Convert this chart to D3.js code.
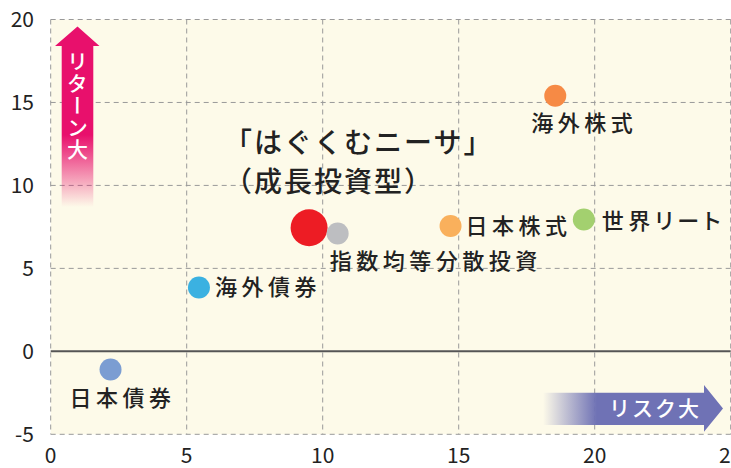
<!DOCTYPE html>
<html>
<head>
<meta charset="utf-8">
<script src="https://cdn.jsdelivr.net/npm/d3@7"></script>
<style>
  html, body { margin: 0; padding: 0; background: #fff; }
  svg { display: block; font-family: "Noto Sans CJK JP", "Noto Sans", sans-serif; }
</style>
</head>
<body>
<script>
// data: risk (x) and return (y)
var names = ["日本債券", "海外債券", "はぐくむニーサ", "指数均等分散投資", "日本株式", "海外株式", "世界リート"];
var risk  = [2.2, 5.45, 9.5, 10.55, 14.7, 18.55, 19.6];
var ret   = [-1.1, 3.85, 7.45, 7.1, 7.55, 15.4, 7.95];
var xTicks = [0, 5, 10, 15, 20, 25];
var yTicks = [-5, 0, 5, 10, 15, 20];
var title = ["「はぐくむニーサ」", "（成長投資型）"];

// styles and label placement
var colors = {
  "日本債券": "#7b9dd2", "海外債券": "#3bb1e1", "はぐくむニーサ": "#ed1c24",
  "指数均等分散投資": "#bdbec1", "日本株式": "#f9b05c", "海外株式": "#f68a45", "世界リート": "#a3d06f"
};
var labelPos = {
  "日本債券": [12, 29, "middle"], "海外債券": [16, 0, "start"],
  "指数均等分散投資": [-8, 28, "start"], "日本株式": [15, 0, "start"],
  "海外株式": [29, 27, "middle"], "世界リート": [18, 2, "start"]
};

var width = 731, height = 468;
var plotL = 50.7, plotR = 730.7, plotT = 19.5, plotB = 434.3;

var svg = d3.select("body").append("svg")
    .attr("width", width)
    .attr("height", height);

var defs = svg.append("defs");

var gv = defs.append("linearGradient").attr("id", "gv")
    .attr("x1", 0).attr("y1", 0).attr("x2", 0).attr("y2", 1);
gv.append("stop").attr("offset", 0).attr("stop-color", "#e8106c").attr("stop-opacity", 1);
gv.append("stop").attr("offset", 0.6).attr("stop-color", "#e8106c").attr("stop-opacity", 1);
gv.append("stop").attr("offset", 1).attr("stop-color", "#e8106c").attr("stop-opacity", 0);

var gh = defs.append("linearGradient").attr("id", "gh")
    .attr("x1", 0).attr("y1", 0).attr("x2", 1).attr("y2", 0);
gh.append("stop").attr("offset", 0).attr("stop-color", "#6f72b5").attr("stop-opacity", 0);
gh.append("stop").attr("offset", 0.3).attr("stop-color", "#6f72b5").attr("stop-opacity", 1);
gh.append("stop").attr("offset", 1).attr("stop-color", "#6f72b5").attr("stop-opacity", 1);

var x = d3.scaleLinear().domain([0, 25]).range([plotL, plotR]);
var y = d3.scaleLinear().domain([-5, 20]).range([plotB, plotT]);

// plot background
svg.append("rect")
    .attr("x", x(0)).attr("y", y(20))
    .attr("width", x(25) - x(0)).attr("height", y(-5) - y(20))
    .attr("fill", "#fdfae9");

// dashed grid
svg.append("g").selectAll("line").data(xTicks).enter().append("line")
    .attr("x1", function(d) { return x(d); }).attr("x2", function(d) { return x(d); })
    .attr("y1", y(20)).attr("y2", y(-5))
    .attr("stroke", "#999").attr("stroke-width", 1).attr("stroke-dasharray", "5,4");

svg.append("g").selectAll("line").data(yTicks.filter(function(d) { return d !== 0; })).enter().append("line")
    .attr("y1", function(d) { return y(d); }).attr("y2", function(d) { return y(d); })
    .attr("x1", x(0)).attr("x2", x(25))
    .attr("stroke", "#999").attr("stroke-width", 1).attr("stroke-dasharray", "5,4");

// zero line
svg.append("line")
    .attr("x1", x(0)).attr("x2", x(25)).attr("y1", y(0)).attr("y2", y(0))
    .attr("stroke", "#555").attr("stroke-width", 2);

// tick labels
svg.append("g").selectAll("text").data(yTicks).enter().append("text")
    .attr("x", 34).attr("y", function(d) { return y(d); })
    .attr("dy", "0.35em")
    .attr("text-anchor", "end")
    .attr("font-size", 21).attr("fill", "#222")
    .text(function(d) { return d; });

svg.append("g").selectAll("text").data(xTicks).enter().append("text")
    .attr("x", function(d) { return x(d); }).attr("y", 456)
    .attr("dy", "0.35em")
    .attr("text-anchor", "middle")
    .attr("font-size", 21).attr("fill", "#222")
    .text(function(d) { return d; });

// return arrow (up)
svg.append("path")
    .attr("d", "M61.7,207 L61.7,46 L55,46 L77.5,26.5 L99.5,46 L93.3,46 L93.3,207 Z")
    .attr("fill", "url(#gv)");
svg.append("text")
    .attr("x", 77.5).attr("y", 51)
    .attr("font-size", 21).attr("fill", "#fff").attr("font-weight", 500)
    .style("writing-mode", "vertical-rl")
    .style("letter-spacing", "1px")
    .text("リターン大");

// risk arrow (right)
svg.append("path")
    .attr("d", "M543,392.7 L704,392.7 L704,385 L723,408.5 L704,431.7 L704,425 L543,425 Z")
    .attr("fill", "url(#gh)");
svg.append("text")
    .attr("x", 609).attr("y", 408.5).attr("dy", "0.35em")
    .attr("font-size", 21).attr("fill", "#fff").attr("font-weight", 500)
    .style("letter-spacing", "2px")
    .text("リスク大");

// points
var pts = names.map(function(n, i) { return { name: n, x: risk[i], y: ret[i] }; });

svg.append("g").selectAll("circle").data(pts).enter().append("circle")
    .attr("cx", function(d) { return x(d.x); })
    .attr("cy", function(d) { return y(d.y); })
    .attr("r", function(d) { return d.name === "はぐくむニーサ" ? 18.5 : 11; })
    .attr("fill", function(d) { return colors[d.name]; });

// point labels
svg.append("g").selectAll("text").data(pts.filter(function(d) { return labelPos[d.name]; })).enter().append("text")
    .attr("x", function(d) { return x(d.x) + labelPos[d.name][0]; })
    .attr("y", function(d) { return y(d.y) + labelPos[d.name][1]; })
    .attr("dy", "0.35em")
    .attr("text-anchor", function(d) { return labelPos[d.name][2]; })
    .attr("font-size", 22).attr("fill", "#222").attr("font-weight", 500)
    .style("letter-spacing", "4.5px")
    .style("font-feature-settings", "'palt'")
    .text(function(d) { return d.name; });

// title for the fund
svg.append("g").selectAll("text").data(title).enter().append("text")
    .attr("x", 224).attr("y", function(d, i) { return 143 + i * 39; })
    .attr("dy", "0.35em")
    .attr("font-size", 28).attr("fill", "#222").attr("font-weight", 500)
    .style("letter-spacing", "2px")
    .text(function(d) { return d; });
</script>
</body>
</html>
